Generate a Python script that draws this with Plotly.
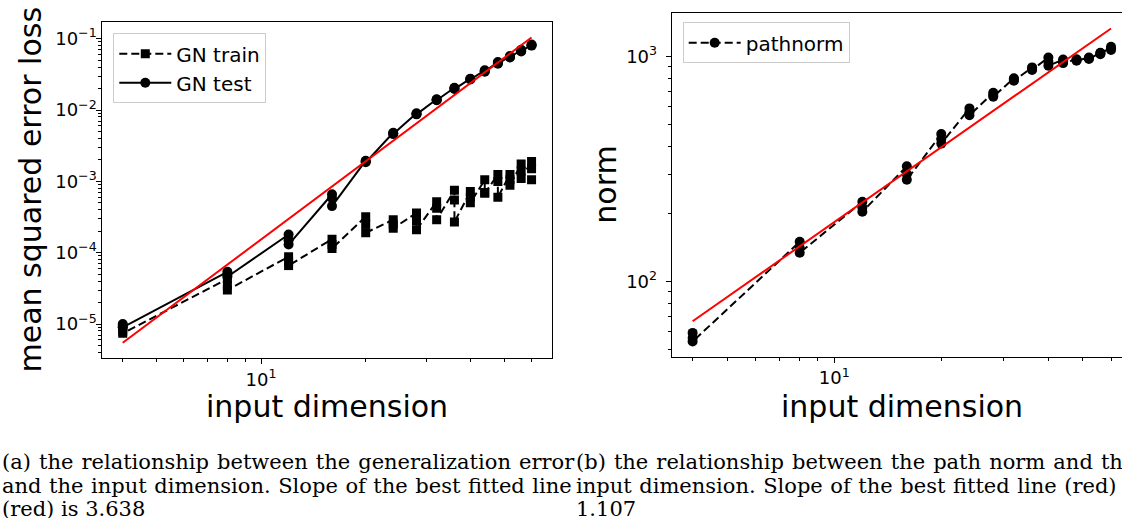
import math
import plotly.graph_objects as go

# ---------------- data ----------------
dims = [4, 8, 12, 16, 20, 24, 28, 32, 36, 40, 44, 48, 52, 56, 60]

gn_train = [
    [9.0e-6, 8.0e-6, 7.4e-6],
    [4.3e-5, 3.5e-5, 3.0e-5],
    [8.8e-5, 7.5e-5, 6.6e-5],
    [1.55e-4, 1.30e-4, 1.15e-4],
    [3.2e-4, 2.5e-4, 1.9e-4],
    [2.9e-4, 2.5e-4, 2.2e-4],
    [3.6e-4, 2.8e-4, 2.1e-4],
    [5.2e-4, 4.2e-4, 2.9e-4],
    [7.5e-4, 5.5e-4, 2.7e-4],
    [7.2e-4, 6.0e-4, 5.0e-4],
    [1.05e-3, 7.0e-4, 6.8e-4],
    [1.25e-3, 1.0e-3, 6.0e-4],
    [1.25e-3, 1.05e-3, 8.8e-4],
    [1.75e-3, 1.4e-3, 1.1e-3],
    [1.9e-3, 1.5e-3, 1.05e-3],
]

gn_test = [
    [1.0e-5, 9.4e-6, 9.0e-6],
    [5.4e-5, 4.9e-5, 4.6e-5],
    [1.8e-4, 1.5e-4, 1.3e-4],
    [6.6e-4, 5.8e-4, 4.5e-4],
    [1.95e-3, 1.9e-3, 1.85e-3],
    [4.8e-3, 4.7e-3, 4.6e-3],
    [9.0e-3, 8.8e-3, 8.7e-3],
    [1.42e-2, 1.39e-2, 1.37e-2],
    [2.05e-2, 2.0e-2, 1.97e-2],
    [2.75e-2, 2.72e-2, 2.68e-2],
    [3.6e-2, 3.5e-2, 3.45e-2],
    [4.7e-2, 4.55e-2, 4.45e-2],
    [5.7e-2, 5.55e-2, 5.45e-2],
    [7.0e-2, 6.8e-2, 6.6e-2],
    [8.3e-2, 8.1e-2, 8.0e-2],
]

pathnorm = [
    [59, 56, 54],
    [150, 141, 134],
    [226, 213, 204],
    [325, 300, 283],
    [452, 430, 410],
    [588, 565, 548],
    [690, 675, 663],
    [800, 790, 780],
    [895, 882, 872],
    [990, 948, 910],
    [970, 952, 935],
    [972, 965, 958],
    [990, 982, 975],
    [1040, 1033, 1025],
    [1105, 1088, 1070],
]

# best fitted lines (slope from captions, level at the first dimension)
fit_a_slope = 3.638
fit_a_start = 5.47e-6
fit_b_slope = 1.107
fit_b_start = 66.5

caption_a = ["(a) the relationship between the generalization error",
             "and the input dimension. Slope of the best fitted line",
             "(red) is 3.638"]
caption_b = ["(b) the relationship between the path norm and the",
             "input dimension. Slope of the best fitted line (red) is",
             "1.107"]

x_tick_vals = [10]
x_tick_text = ["10<sup>1</sup>"]
ya_tick_vals = [1e-5, 1e-4, 1e-3, 1e-2, 1e-1]
ya_tick_text = ["10<sup>\u22125</sup>", "10<sup>\u22124</sup>", "10<sup>\u22123</sup>",
                "10<sup>\u22122</sup>", "10<sup>\u22121</sup>"]
yb_tick_vals = [100, 1000]
yb_tick_text = ["10<sup>2</sup>", "10<sup>3</sup>"]


def flatten(runs):
    xs, ys = [], []
    for d, vals in zip(dims, runs):
        for v in vals:
            xs.append(d)
            ys.append(v)
    return xs, ys


def fit_line(start, slope):
    x0, x1 = dims[0], dims[-1]
    return [x0, x1], [start, start * (x1 / x0) ** slope]


def minor_vals(lo_exp, hi_exp, lo, hi):
    out = []
    for e in range(lo_exp, hi_exp + 1):
        for k in range(2, 10):
            v = k * 10 ** e
            if lo <= v <= hi:
                out.append(v)
    return out


W, H = 1122, 518
FONT = "DejaVu Sans"

tx, ty = flatten(gn_train)
sx, sy = flatten(gn_test)
px, py = flatten(pathnorm)
fax, fay = fit_line(fit_a_start, fit_a_slope)
fbx, fby = fit_line(fit_b_start, fit_b_slope)

fig = go.Figure()
fig.add_trace(go.Scatter(x=tx, y=ty, mode="lines+markers", name="GN train",
                         line=dict(color="black", width=2, dash="8px,4px"),
                         marker=dict(symbol="square", size=9, color="black"),
                         xaxis="x", yaxis="y", legend="legend"))
fig.add_trace(go.Scatter(x=sx, y=sy, mode="lines+markers", name="GN test",
                         line=dict(color="black", width=2),
                         marker=dict(symbol="circle", size=10, color="black"),
                         xaxis="x", yaxis="y", legend="legend"))
fig.add_trace(go.Scatter(x=fax, y=fay, mode="lines", showlegend=False,
                         line=dict(color="red", width=2), xaxis="x", yaxis="y"))
fig.add_trace(go.Scatter(x=px, y=py, mode="lines+markers", name="pathnorm",
                         line=dict(color="black", width=2, dash="8px,4px"),
                         marker=dict(symbol="circle", size=10, color="black"),
                         xaxis="x2", yaxis="y2", legend="legend2"))
fig.add_trace(go.Scatter(x=fbx, y=fby, mode="lines", showlegend=False,
                         line=dict(color="red", width=2), xaxis="x2", yaxis="y2"))

lx0 = math.log10(dims[0]) - 0.0588
lx1 = math.log10(dims[-1]) + 0.0588

common = dict(type="log", showline=True, linecolor="black", linewidth=1,
              ticks="outside", ticklen=5, tickwidth=1, tickcolor="black",
              showgrid=False, zeroline=False,
              tickfont=dict(family=FONT, size=18, color="black"))

x_minor = dict(tickvals=minor_vals(0, 1, 3.4, 70), ticks="outside", ticklen=3,
               tickwidth=1, tickcolor="black", showgrid=False)

fig.update_layout(
    width=W, height=H, margin=dict(l=0, r=0, t=0, b=0),
    paper_bgcolor="white", plot_bgcolor="white",
    font=dict(family=FONT, color="black"),
    xaxis=dict(**common, domain=[102.3 / W, 552 / W], anchor="y", mirror=True,
               range=[lx0, lx1], tickvals=x_tick_vals, ticktext=x_tick_text,
               minor=x_minor),
    yaxis=dict(**common, domain=[1 - 358 / H, 1 - 22.3 / H], anchor="x", mirror=True,
               range=[-5.476, -0.770], tickvals=ya_tick_vals, ticktext=ya_tick_text,
               ticklabelstandoff=-4,
               minor=dict(tickvals=minor_vals(-6, -1, 3.3e-6, 0.17), ticks="outside",
                          ticklen=3, tickwidth=1, tickcolor="black", showgrid=False)),
    xaxis2=dict(**common, domain=[671.7 / W, 1.0], anchor="y2", mirror=True,
                range=[lx0, 1.809], tickvals=x_tick_vals, ticktext=x_tick_text,
                minor=x_minor),
    yaxis2=dict(**common, domain=[1 - 356.7 / H, 1 - 12.7 / H], anchor="x2", mirror=False,
                range=[1.665, 3.195], tickvals=yb_tick_vals, ticktext=yb_tick_text,
                ticklabelstandoff=5,
                minor=dict(tickvals=minor_vals(1, 3, 46, 1570), ticks="outside",
                           ticklen=3, tickwidth=1, tickcolor="black", showgrid=False)),
    legend=dict(x=113.3 / W, y=1 - 33.3 / H, xanchor="left", yanchor="top",
                bgcolor="white", bordercolor="#cccccc", borderwidth=1,
                font=dict(family=FONT, size=20, color="black"), itemwidth=52),
    legend2=dict(x=682.7 / W, y=1 - 22.3 / H, xanchor="left", yanchor="top",
                 bgcolor="white", bordercolor="#cccccc", borderwidth=1,
                 font=dict(family=FONT, size=20, color="black"), itemwidth=52),
)

annotations = []
# axis titles
annotations.append(dict(text="mean squared error loss", x=30.5 / W, y=1 - 190 / H,
                        textangle=-90, font=dict(family=FONT, size=30)))
annotations.append(dict(text="norm", x=606 / W, y=1 - 184.7 / H,
                        textangle=-90, font=dict(family=FONT, size=30)))
annotations.append(dict(text="input dimension", x=327 / W, y=1 - 406 / H,
                        font=dict(family=FONT, size=30)))
annotations.append(dict(text="input dimension", x=901.8 / W, y=1 - 406 / H,
                        font=dict(family=FONT, size=30)))

# captions: justified lines get a little extra word spacing (style only)
word_gap = {0: [1.4, 0.9, 0], 574: [1.4, 0.9, 0]}
for col_x, lines in ((0, caption_a), (574, caption_b)):
    for i, t in enumerate(lines):
        styled = '<span style="word-spacing:%.1fpx">%s</span>' % (word_gap[col_x][i], t)
        annotations.append(dict(text=styled, x=col_x / W, y=1 - (462 + 23.5 * i) / H,
                                xanchor="left",
                                font=dict(family="DejaVu Serif", size=21)))
for a in annotations:
    a.setdefault("xanchor", "center")
    a.update(xref="paper", yref="paper", yanchor="middle", showarrow=False)
    a["font"]["color"] = "black"
fig.update_layout(annotations=annotations)

fig.write_html("out.html", config={"displayModeBar": False},
               post_script="document.body.style.margin='0';"
                           "document.body.style.overflow='hidden';")
